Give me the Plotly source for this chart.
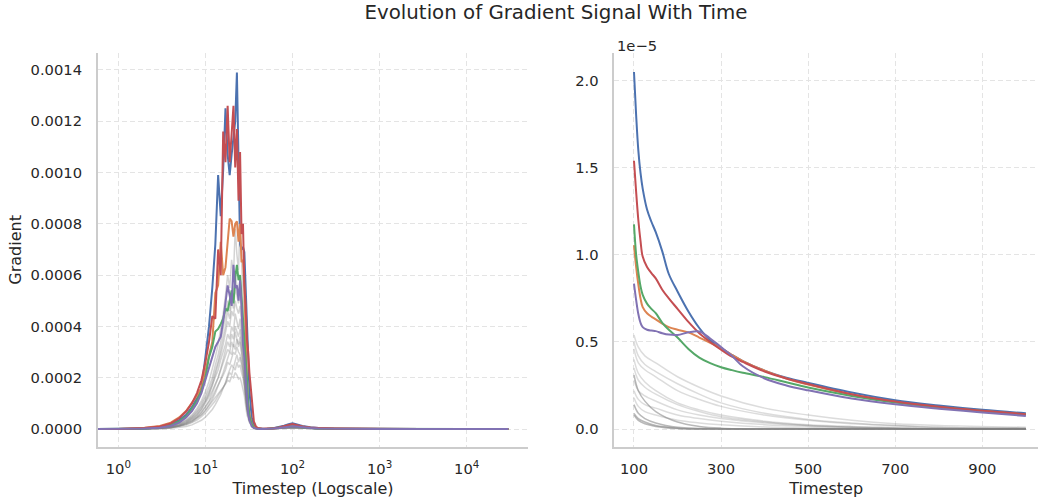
import plotly.graph_objects as go

# ---------------- Left panel data (gradient, units of 1e-4) ----------------
left_x = [0.5, 1, 2, 3, 4, 5, 6, 7, 8, 9,
          10, 11, 12, 13, 14, 15, 16, 17, 18, 19, 20, 21, 22, 23, 24, 25, 26, 27, 28, 29, 30, 31,
          32, 34, 36, 38, 40,
          45, 50, 60, 70, 80, 90, 100, 110, 130, 160, 200,
          300, 500, 1000, 3000, 10000, 30000]

left_blue = [0, 0, 0.03, 0.08, 0.18, 0.35, 0.55, 0.85, 1.2, 1.6,
             2.8, 4.0, 5.5, 7.2, 9.9, 8.3, 10.1, 12.5, 10.7, 9.9, 10.7, 11.5, 12.0, 13.9, 9.5, 7.2, 7.0, 7.1, 6.9, 5.5, 4.3, 2.3,
             1.5, 0.45, 0.15, 0.05, 0.02,
             0.01, 0.0, 0.03, 0.07, 0.13, 0.19, 0.22, 0.19, 0.12, 0.07, 0.04,
             0.02, 0.01, 0.005, 0, 0, 0]
left_orange = [0, 0, 0.05, 0.12, 0.25, 0.45, 0.7, 1.0, 1.3, 1.6,
               2.3, 2.9, 3.4, 5.3, 5.6, 7.3, 6.0, 6.3, 7.2, 8.2, 8.1, 7.5, 8.0, 8.1, 7.3, 8.0, 6.5, 6.6, 5.5, 3.5, 2.0, 1.0,
               0.6, 0.2, 0.08, 0.03, 0.01,
               0.0, 0.0, 0.02, 0.05, 0.09, 0.13, 0.15, 0.13, 0.09, 0.05, 0.03,
               0.015, 0.008, 0.004, 0, 0, 0]
left_green = [0, 0, 0.02, 0.06, 0.15, 0.3, 0.5, 0.8, 1.1, 1.5,
              2.0, 2.8, 3.2, 3.8, 3.9, 4.1, 4.3, 4.7, 4.6, 5.0, 5.4, 4.9, 5.9, 6.4, 5.8, 6.0, 5.2, 4.3, 3.5, 3.0, 2.0, 1.0,
              0.5, 0.18, 0.06, 0.02, 0.01,
              0.0, 0.0, 0.02, 0.04, 0.08, 0.11, 0.12, 0.11, 0.07, 0.04, 0.02,
              0.01, 0.005, 0.002, 0, 0, 0]
left_red = [0, 0, 0.04, 0.1, 0.22, 0.42, 0.68, 1.0, 1.4, 1.9,
            2.6, 3.4, 4.4, 4.3, 7.0, 6.0, 11.6, 10.4, 12.6, 10.4, 11.5, 12.6, 10.2, 11.7, 8.9, 10.8, 7.6, 8.0, 5.6, 4.8, 3.5, 3.0,
            2.2, 1.1, 0.3, 0.1, 0.04,
            0.01, 0.01, 0.03, 0.06, 0.11, 0.16, 0.19, 0.16, 0.1, 0.06, 0.035,
            0.02, 0.01, 0.005, 0, 0, 0]
left_purple = [0, 0, 0.02, 0.05, 0.12, 0.25, 0.45, 0.7, 1.0, 1.4,
               1.9, 2.4, 2.8, 3.2, 3.4, 3.6, 4.2, 5.0, 5.6, 5.2, 4.8, 6.4, 5.5, 5.6, 5.0, 5.8, 4.8, 3.3, 2.8, 2.0, 1.2, 0.6,
               0.35, 0.1, 0.04, 0.01, 0.0,
               0.0, 0.0, 0.02, 0.04, 0.07, 0.1, 0.11, 0.1, 0.06, 0.035, 0.02,
               0.01, 0.005, 0.002, 0, 0, 0]

gray_x = [0.5, 1, 2, 3, 4, 5, 6, 7, 8, 9, 10, 11, 12, 13, 14, 15, 16, 17, 18, 19,
          20, 21, 22, 23, 24, 25, 26, 27, 28, 29, 30, 32, 35, 40, 50, 100, 200, 30000]

left_gray = [
    [0, 0, 0.01, 0.03, 0.06, 0.12, 0.2, 0.3, 0.42, 0.56, 0.72, 0.9, 1.05, 1.2, 1.35, 1.5, 1.6, 1.75, 1.9, 1.85,
     2.05, 2.0, 2.2, 2.1, 1.95, 2.0, 1.8, 1.6, 1.3, 0.9, 0.55, 0.25, 0.07, 0.01, 0, 0.04, 0.01, 0],
    [0, 0, 0.01, 0.02, 0.05, 0.1, 0.16, 0.25, 0.35, 0.48, 0.62, 0.8, 0.95, 1.1, 1.3, 1.45, 1.6, 1.8, 2.0, 2.2,
     2.1, 2.4, 2.3, 2.6, 2.4, 2.5, 2.2, 2.0, 1.6, 1.1, 0.7, 0.3, 0.08, 0.02, 0, 0.05, 0.01, 0],
    [0, 0, 0.01, 0.03, 0.07, 0.13, 0.22, 0.34, 0.48, 0.65, 0.85, 1.05, 1.25, 1.5, 1.7, 1.9, 2.1, 2.3, 2.6, 2.5,
     2.8, 3.0, 2.9, 3.2, 3.0, 2.9, 2.6, 2.3, 1.8, 1.2, 0.75, 0.3, 0.08, 0.02, 0, 0.06, 0.01, 0],
    [0, 0, 0.01, 0.03, 0.08, 0.15, 0.25, 0.4, 0.55, 0.75, 1.0, 1.25, 1.5, 1.75, 2.0, 2.3, 2.6, 2.8, 3.1, 3.0,
     3.4, 3.2, 3.8, 3.5, 3.3, 3.6, 3.0, 2.7, 2.0, 1.4, 0.8, 0.35, 0.1, 0.02, 0, 0.07, 0.01, 0],
    [0, 0, 0.02, 0.04, 0.09, 0.17, 0.28, 0.44, 0.62, 0.85, 1.1, 1.4, 1.7, 2.0, 2.3, 2.7, 3.0, 3.3, 3.7, 3.5,
     4.0, 3.8, 4.5, 4.2, 3.9, 4.3, 3.6, 3.2, 2.4, 1.6, 0.9, 0.4, 0.1, 0.02, 0, 0.08, 0.01, 0],
    [0, 0, 0.01, 0.03, 0.07, 0.14, 0.24, 0.38, 0.55, 0.78, 1.05, 1.35, 1.7, 2.1, 2.5, 2.9, 3.3, 3.8, 4.2, 4.0,
     4.6, 4.4, 5.0, 4.7, 4.5, 4.8, 4.1, 3.6, 2.7, 1.8, 1.0, 0.45, 0.12, 0.03, 0, 0.08, 0.01, 0],
    [0, 0, 0, 0.01, 0.03, 0.06, 0.1, 0.16, 0.24, 0.34, 0.46, 0.6, 0.76, 0.95, 1.15, 1.35, 1.6, 1.8, 2.1, 2.3,
     2.5, 2.4, 2.7, 2.9, 2.6, 2.8, 2.5, 2.2, 1.8, 1.3, 0.8, 0.35, 0.09, 0.02, 0, 0.05, 0.01, 0],
    [0, 0, 0.02, 0.04, 0.1, 0.2, 0.33, 0.5, 0.72, 1.0, 1.3, 1.65, 2.0, 2.5, 2.9, 3.4, 3.9, 4.4, 5.0, 4.6,
     5.4, 5.0, 6.0, 5.5, 5.2, 5.8, 4.8, 4.2, 3.1, 2.0, 1.1, 0.45, 0.12, 0.03, 0, 0.1, 0.02, 0],
    [0, 0, 0.02, 0.05, 0.12, 0.22, 0.36, 0.55, 0.8, 1.1, 1.45, 1.85, 2.3, 2.8, 3.3, 3.9, 4.5, 5.2, 6.0, 5.5,
     6.6, 6.0, 7.8, 6.8, 6.2, 8.0, 6.5, 5.5, 4.0, 2.6, 1.4, 0.55, 0.15, 0.04, 0, 0.12, 0.02, 0],
    [0, 0, 0.01, 0.02, 0.05, 0.1, 0.17, 0.27, 0.4, 0.55, 0.72, 0.92, 1.15, 1.4, 1.65, 1.95, 2.2, 2.5, 2.8, 3.0,
     2.9, 3.3, 3.1, 3.5, 3.2, 3.4, 3.0, 2.6, 2.1, 1.4, 0.85, 0.35, 0.09, 0.02, 0, 0.06, 0.01, 0],
    [0, 0, 0.01, 0.03, 0.06, 0.12, 0.2, 0.32, 0.46, 0.64, 0.86, 1.1, 1.4, 1.7, 2.0, 2.35, 2.7, 3.0, 3.4, 3.2,
     3.7, 3.5, 4.0, 3.8, 3.6, 3.9, 3.4, 3.0, 2.3, 1.5, 0.9, 0.4, 0.1, 0.02, 0, 0.07, 0.01, 0],
    [0, 0, 0.02, 0.04, 0.09, 0.18, 0.3, 0.46, 0.66, 0.9, 1.2, 1.5, 1.85, 2.25, 2.65, 3.1, 3.6, 4.0, 4.6, 4.3,
     5.0, 4.7, 5.5, 5.2, 4.9, 5.3, 4.5, 3.9, 2.9, 1.9, 1.05, 0.45, 0.12, 0.03, 0, 0.09, 0.01, 0],
]

# ---------------- Right panel data (gradient, units of 1e-5) ----------------
right_x = [100, 105, 110, 115, 120, 130, 140, 150, 165, 180, 200, 225, 250, 275, 300, 325, 350,
           400, 450, 500, 600, 700, 800, 900, 1000]
right_blue = [2.05, 1.80, 1.60, 1.47, 1.38, 1.26, 1.19, 1.13, 1.02, 0.89, 0.79, 0.675, 0.58, 0.51, 0.465,
              0.425, 0.39, 0.335, 0.295, 0.265, 0.21, 0.165, 0.135, 0.11, 0.09]
right_orange = [1.055, 0.93, 0.83, 0.75, 0.70, 0.665, 0.645, 0.63, 0.605, 0.585, 0.57, 0.555, 0.525, 0.495,
                0.465, 0.425, 0.39, 0.335, 0.29, 0.255, 0.198, 0.155, 0.125, 0.103, 0.083]
right_green = [1.175, 1.0, 0.90, 0.82, 0.77, 0.72, 0.69, 0.665, 0.61, 0.57, 0.525, 0.46, 0.41, 0.378, 0.355,
               0.338, 0.323, 0.298, 0.268, 0.238, 0.19, 0.152, 0.125, 0.104, 0.083]
right_red = [1.54, 1.36, 1.20, 1.08, 0.99, 0.93, 0.895, 0.865, 0.80, 0.75, 0.69, 0.615, 0.55, 0.50, 0.455,
             0.415, 0.385, 0.33, 0.29, 0.258, 0.20, 0.158, 0.128, 0.105, 0.085]
right_purple = [0.835, 0.74, 0.66, 0.61, 0.585, 0.57, 0.565, 0.562, 0.55, 0.542, 0.54, 0.555, 0.56, 0.52,
                0.47, 0.42, 0.36, 0.29, 0.25, 0.222, 0.175, 0.142, 0.117, 0.095, 0.075]

right_gray_x = [100, 110, 125, 150, 200, 250, 300, 400, 500, 600, 700, 800, 1000]
right_gray = [
    [0.54, 0.47, 0.42, 0.38, 0.30, 0.24, 0.19, 0.12, 0.08, 0.05, 0.03, 0.02, 0.01],
    [0.50, 0.42, 0.37, 0.33, 0.26, 0.20, 0.15, 0.09, 0.055, 0.035, 0.02, 0.01, 0.005],
    [0.46, 0.38, 0.34, 0.30, 0.22, 0.17, 0.13, 0.08, 0.05, 0.03, 0.02, 0.01, 0.005],
    [0.40, 0.32, 0.27, 0.22, 0.15, 0.11, 0.08, 0.045, 0.025, 0.015, 0.01, 0.005, 0.0],
    [0.35, 0.28, 0.24, 0.20, 0.14, 0.10, 0.07, 0.04, 0.02, 0.01, 0.005, 0.0, 0.0],
    [0.28, 0.22, 0.19, 0.16, 0.11, 0.08, 0.06, 0.035, 0.02, 0.01, 0.005, 0.0, 0.0],
    [0.22, 0.17, 0.14, 0.12, 0.08, 0.06, 0.045, 0.025, 0.015, 0.01, 0.005, 0.0, 0.0],
    [0.18, 0.13, 0.10, 0.08, 0.05, 0.035, 0.025, 0.012, 0.006, 0.003, 0.0, 0.0, 0.0],
]
right_gray_dark = [
    [0.31, 0.22, 0.16, 0.10, 0.04, 0.015, 0.005, 0.0, 0.0, 0.0, 0.0, 0.0, 0.0],
    [0.14, 0.09, 0.06, 0.035, 0.01, 0.003, 0.0, 0.0, 0.0, 0.0, 0.0, 0.0, 0.0],
    [0.09, 0.06, 0.04, 0.02, 0.005, 0.0, 0.0, 0.0, 0.0, 0.0, 0.0, 0.0, 0.0],
    [0.08, 0.05, 0.03, 0.015, 0.003, 0.0, 0.0, 0.0, 0.0, 0.0, 0.0, 0.0, 0.0],
]

names = ["blue", "orange", "green", "red", "purple"]
colors = ["#4C72B0", "#DD8452", "#55A868", "#C44E52", "#8172B3"]

left_series = [left_blue, left_orange, left_green, left_red, left_purple]
right_series = [right_blue, right_orange, right_green, right_red, right_purple]

fig = go.Figure()

for row in left_gray:
    fig.add_trace(go.Scatter(x=gray_x, y=[v * 1e-4 for v in row], mode="lines",
                             line=dict(color="rgba(128,128,128,0.35)", width=1.5),
                             xaxis="x", yaxis="y", showlegend=False, hoverinfo="skip"))
for s, c, n in zip(left_series, colors, names):
    fig.add_trace(go.Scatter(x=left_x, y=[v * 1e-4 for v in s], mode="lines", name=n,
                             line=dict(color=c, width=2), xaxis="x", yaxis="y", showlegend=False))

for row in right_gray:
    fig.add_trace(go.Scatter(x=right_gray_x, y=[v * 1e-5 for v in row], mode="lines",
                             line=dict(color="rgba(128,128,128,0.28)", width=1.5, shape="spline"),
                             xaxis="x2", yaxis="y2", showlegend=False, hoverinfo="skip"))
for row in right_gray_dark:
    fig.add_trace(go.Scatter(x=right_gray_x, y=[v * 1e-5 for v in row], mode="lines",
                             line=dict(color="rgba(128,128,128,0.55)", width=1.5, shape="spline"),
                             xaxis="x2", yaxis="y2", showlegend=False, hoverinfo="skip"))
for s, c, n in zip(right_series, colors, names):
    fig.add_trace(go.Scatter(x=right_x, y=[v * 1e-5 for v in s], mode="lines", name=n,
                             line=dict(color=c, width=2, shape="spline"),
                             xaxis="x2", yaxis="y2", showlegend=False))

W, H = 1038, 501
FONT = "DejaVu Sans"
TXT = "#262626"
GRID = "#e4e4e4"
SPINE = "#cccccc"

common = dict(showgrid=True, gridcolor=GRID, griddash="5px,3px", gridwidth=1,
              showline=True, linecolor=SPINE, linewidth=1.5, zeroline=False,
              ticks="outside", tickcolor="rgba(0,0,0,0)",
              tickfont=dict(family=FONT, size=14.7, color=TXT))

y_dom = [(H - 446.7) / H, (H - 53) / H]

fig.update_layout(
    width=W, height=H,
    margin=dict(l=0, r=0, t=0, b=0),
    paper_bgcolor="white", plot_bgcolor="white",
    font=dict(family=FONT, color=TXT),
    title=dict(text="Evolution of Gradient Signal With Time", x=556 / W, xanchor="center",
               y=(H - 12.3) / H, yanchor="middle", font=dict(family=FONT, size=19.8, color=TXT)),
    xaxis=dict(domain=[97.7 / W, 528.3 / W], type="log", range=[-0.2365, 4.707],
               tickvals=[1, 10, 100, 1000, 10000],
               ticktext=["10<sup>0</sup>", "10<sup>1</sup>", "10<sup>2</sup>", "10<sup>3</sup>", "10<sup>4</sup>"],
               ticklen=8, anchor="y",
               title=dict(text="Timestep (Logscale)", font=dict(family=FONT, size=16, color=TXT), standoff=7),
               **common),
    yaxis=dict(domain=y_dom, range=[-0.000069, 0.001466],
               tickvals=[0, 0.0002, 0.0004, 0.0006, 0.0008, 0.0010, 0.0012, 0.0014],
               tickformat=".4f", ticklen=11, anchor="x",
               title=dict(text="Gradient", font=dict(family=FONT, size=16, color=TXT), standoff=5),
               **common),
    xaxis2=dict(domain=[614.3 / W, 1.0], range=[54.8, 1027.9], tickvals=[100, 300, 500, 700, 900],
                ticklen=8, anchor="y2",
                title=dict(text="Timestep", font=dict(family=FONT, size=16, color=TXT), standoff=7),
                **common),
    yaxis2=dict(domain=y_dom, range=[-0.1016e-5, 2.159e-5],
                tickvals=[0, 0.5e-5, 1.0e-5, 1.5e-5, 2.0e-5],
                ticktext=["0.0", "0.5", "1.0", "1.5", "2.0"],
                ticklen=11, anchor="x2",
                **common),
    annotations=[dict(text="1e\u22125", xref="paper", yref="paper", x=615 / W, y=(H - 45) / H,
                      xanchor="left", yanchor="middle", showarrow=False,
                      font=dict(family=FONT, size=14.7, color=TXT))],
)

fig.write_html("out.html", config={"displayModeBar": False},
               post_script="document.body.style.margin='0px';")
